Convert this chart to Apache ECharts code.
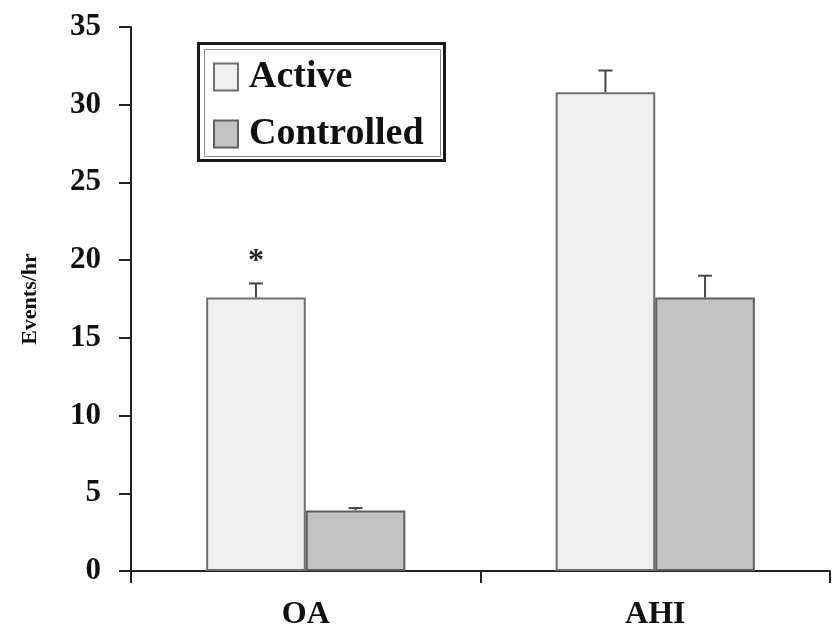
<!DOCTYPE html>
<html>
<head>
<meta charset="utf-8">
<script src="https://cdn.jsdelivr.net/npm/echarts@6/dist/echarts.min.js"></script>
<style>
  html, body { margin: 0; padding: 0; background: #fff; }
  #chart { width: 834px; height: 638px; }
</style>
</head>
<body>
<div id="chart"></div>
<script>
// Respiratory event rates by measure and condition
const categories = ['OA', 'AHI'];
const activeValues = [17.6, 30.8];
const activeErrors = [18.5, 32.2];      // upper end of error bar
const controlledValues = [3.9, 17.6];
const controlledErrors = [4.05, 19.0];
const activeMarks = ['*', ''];          // significance markers
const yTicks = [0, 5, 10, 15, 20, 25, 30, 35];

const FONT = '"Liberation Serif", "DejaVu Serif", serif';
const CATEGORY_GAP = 0.43;

// Error bar (+ optional marker) drawn on top of each bar of a series
function errorBarRenderer(seriesIndex, seriesCount, marks) {
  return function (params, api) {
    const idx = api.value(0);
    const base = api.coord([idx, api.value(1)]);
    const topPt = api.coord([idx, api.value(2)]);
    const band = api.size([1, 0])[0];
    const barW = band * (1 - CATEGORY_GAP) / seriesCount;
    const x = base[0] - (seriesCount * barW) / 2 + barW * (seriesIndex + 0.5);
    const cap = 7;
    const children = [
      { type: 'line', shape: { x1: x, y1: base[1], x2: x, y2: topPt[1] },
        style: { stroke: '#444', lineWidth: 2 } },
      { type: 'line', shape: { x1: x - cap, y1: topPt[1], x2: x + cap, y2: topPt[1] },
        style: { stroke: '#444', lineWidth: 2 } }
    ];
    const mark = marks ? marks[idx] : '';
    if (mark) {
      children.push({
        type: 'text',
        style: { text: mark, x: x, y: topPt[1] - 6, align: 'center', verticalAlign: 'bottom',
                 font: 'bold 32px ' + FONT, fill: '#222' }
      });
    }
    return { type: 'group', children: children };
  };
}

const chart = echarts.init(document.getElementById('chart'));
chart.setOption({
  animation: false,
  backgroundColor: '#fff',
  grid: { left: 131, right: 4, top: 27, bottom: 67 },
  legend: {
    data: ['Active', 'Controlled'],
    orient: 'vertical',
    left: 213, top: 58,
    padding: 0,
    icon: 'rect',
    itemWidth: 24, itemHeight: 27, itemGap: 19,
    textStyle: { fontFamily: FONT, fontWeight: 'bold', fontSize: 38, color: '#111', padding: [4, 0, 0, 6] },
    z: 20
  },
  graphic: [
    // legend frame: heavy outer border with a thin inner rule
    { type: 'rect', left: 197, top: 42, shape: { width: 246, height: 117 },
      style: { fill: '#fff', stroke: '#1a1a1a', lineWidth: 3 }, silent: true, z: 10 },
    { type: 'rect', left: 202, top: 47, shape: { width: 236, height: 107 },
      style: { fill: 'none', stroke: '#888', lineWidth: 1 }, silent: true, z: 11 }
  ],
  xAxis: {
    type: 'category',
    data: categories,
    axisLine: { lineStyle: { color: '#222', width: 2 } },
    axisTick: { show: true, inside: false, length: 12, lineStyle: { color: '#222', width: 2 } },
    axisLabel: { margin: 28, fontFamily: FONT, fontWeight: 'bold', fontSize: 32, color: '#111' }
  },
  yAxis: {
    type: 'value',
    min: yTicks[0], max: yTicks[yTicks.length - 1], interval: 5,
    name: 'Events/hr',
    nameLocation: 'middle',
    nameGap: 90,
    nameRotate: 90,
    nameTextStyle: { fontFamily: FONT, fontWeight: 'bold', fontSize: 22, color: '#111' },
    splitLine: { show: false },
    axisLine: { show: true, lineStyle: { color: '#222', width: 2 } },
    axisTick: { show: true, length: 12, lineStyle: { color: '#222', width: 2 } },
    axisLabel: { margin: 30, fontFamily: FONT, fontWeight: 'bold', fontSize: 31, color: '#111' }
  },
  series: [
    {
      name: 'Active', type: 'bar', data: activeValues,
      barGap: '0%', barCategoryGap: (CATEGORY_GAP * 100) + '%',
      itemStyle: { color: '#efefef', borderColor: '#6f6f6f', borderWidth: 2 }
    },
    {
      name: 'Controlled', type: 'bar', data: controlledValues,
      itemStyle: { color: '#c2c2c2', borderColor: '#5f5f5f', borderWidth: 2 }
    },
    {
      type: 'custom', name: 'Active err',
      renderItem: errorBarRenderer(0, 2, activeMarks),
      data: categories.map((c, i) => [i, activeValues[i], activeErrors[i]]),
      z: 5
    },
    {
      type: 'custom', name: 'Controlled err',
      renderItem: errorBarRenderer(1, 2, null),
      data: categories.map((c, i) => [i, controlledValues[i], controlledErrors[i]]),
      z: 5
    }
  ]
});
</script>
</body>
</html>
